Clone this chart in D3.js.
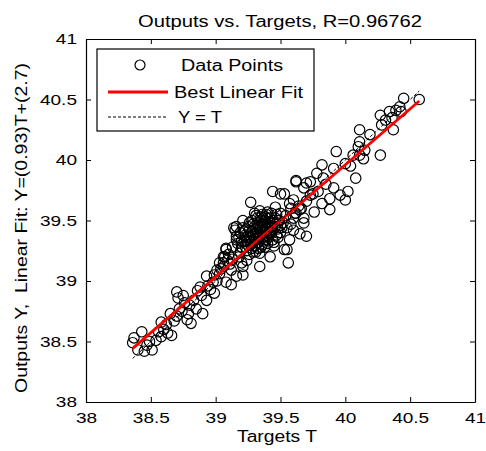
<!DOCTYPE html>
<html>
<head>
<meta charset="utf-8">
<script src="https://cdn.jsdelivr.net/npm/d3@7"></script>
<style>
  body { margin: 0; background: #fff; }
  text { font-family: "Liberation Sans", Arial, sans-serif; fill: #000; }
</style>
</head>
<body>
<div id="chart"></div>
<script>
// targets T and outputs Y (pairs line up by index)
var targets = [
  38.36, 38.37, 38.43, 38.40, 38.45, 38.49, 38.54, 38.51, 38.58, 38.60,
  38.66, 38.65, 38.62, 38.70, 38.72, 38.70, 38.71, 38.75, 38.80, 38.79,
  38.85, 38.81, 38.89, 38.88, 38.93, 38.96, 38.99, 38.98, 39.03, 39.08,
  39.06, 39.06, 38.90, 38.78, 38.93, 38.99, 39.12, 39.16, 39.21, 38.56,
  38.47, 38.68, 38.74, 38.83, 38.86, 38.94, 39.01, 38.63, 38.58, 38.76,
  39.01, 39.03, 39.07, 39.08, 39.08, 39.16, 39.14, 39.16, 39.15, 39.16,
  39.21, 39.26, 39.27, 39.24, 39.21, 39.34, 39.34, 39.42, 39.56, 39.55,
  39.53, 39.57, 39.44, 39.50, 39.53, 39.57, 39.46, 39.50, 39.65, 39.68,
  39.65, 39.70, 39.62, 39.70, 39.30, 39.32, 39.34, 39.36, 39.38, 39.40,
  39.35, 39.33, 39.31, 39.29, 39.27, 39.25, 39.28, 39.30, 39.37, 39.39,
  39.41, 39.43, 39.45, 39.42, 39.38, 39.36, 39.32, 39.29, 39.26, 39.23,
  39.22, 39.20, 39.19, 39.18, 39.13, 39.11, 39.13, 39.10, 39.24, 39.26,
  39.31, 39.35, 39.40, 39.44, 39.47, 39.48, 39.50, 39.46, 39.40, 39.34,
  39.30, 39.38, 39.43, 39.33, 39.28, 39.37, 39.42, 39.39, 39.35, 39.31,
  39.27, 39.24, 39.48, 39.52, 39.55, 39.58, 39.60, 39.54, 39.50, 39.45,
  39.60, 39.62, 39.19, 39.17, 39.06, 39.04, 39.09, 39.12, 39.20, 39.36,
  39.60, 39.61, 39.66, 39.68, 39.70, 39.73, 39.68, 39.82, 39.88, 39.88,
  39.96, 40.00, 40.02, 39.91, 40.08, 39.62, 39.73, 39.83, 39.78, 39.91,
  39.82, 40.00, 39.93, 40.06, 40.27, 40.14, 40.11, 40.15, 40.10, 40.11,
  40.19, 40.11, 40.37, 40.36, 40.28, 40.27, 40.34, 40.39, 40.42, 40.45,
  40.57, 39.75, 39.79, 39.85, 39.64, 39.58, 40.04, 40.43, 40.31, 39.76,
  39.26, 39.28, 39.30, 39.32, 39.34, 39.36, 39.38, 39.40, 39.42, 39.44,
  39.46, 39.44, 39.41, 39.39, 39.36, 39.33, 39.30, 39.27, 39.24, 39.22,
  39.25, 39.28, 39.31, 39.35, 39.39, 39.43, 39.47, 39.49, 39.51, 39.48,
  39.45, 39.38, 39.33, 39.29, 39.23, 39.20, 39.18, 39.21, 39.35, 39.40
];
var outputs = [
  38.49, 38.53, 38.58, 38.43, 38.42, 38.50, 38.51, 38.43, 38.66, 38.60,
  38.55, 38.73, 38.64, 38.71, 38.77, 38.91, 38.86, 38.88, 38.80, 38.73,
  38.77, 38.65, 38.88, 38.95, 38.84, 38.93, 38.90, 38.99, 39.06, 38.99,
  39.15, 39.20, 38.73, 38.68, 39.04, 39.05, 38.97, 39.04, 39.05, 38.58,
  38.47, 38.67, 38.75, 38.84, 38.92, 38.96, 39.00, 38.57, 38.54, 38.82,
  39.09, 39.15, 39.20, 39.26, 39.27, 39.34, 39.44, 39.45, 39.42, 39.37,
  39.50, 39.48, 39.65, 39.17, 39.12, 39.12, 39.23, 39.20, 39.15, 39.26,
  39.26, 39.34, 39.74, 39.72, 39.72, 39.64, 39.61, 39.56, 39.59, 39.48,
  39.39, 39.37, 39.83, 39.81, 39.35, 39.40, 39.38, 39.44, 39.42, 39.47,
  39.50, 39.46, 39.43, 39.38, 39.33, 39.30, 39.27, 39.29, 39.33, 39.37,
  39.40, 39.45, 39.48, 39.52, 39.53, 39.55, 39.52, 39.47, 39.42, 39.38,
  39.33, 39.28, 39.24, 39.20, 39.18, 39.14, 39.28, 39.22, 39.25, 39.22,
  39.24, 39.28, 39.31, 39.34, 39.38, 39.43, 39.46, 39.52, 39.57, 39.58,
  39.56, 39.48, 39.40, 39.36, 39.32, 39.40, 39.44, 39.45, 39.41, 39.39,
  39.36, 39.33, 39.50, 39.48, 39.44, 39.47, 39.52, 39.54, 39.40, 39.29,
  39.42, 39.56, 39.40, 39.31, 39.12, 39.10, 39.17, 39.09, 39.15, 39.30,
  39.67, 39.56, 39.60, 39.52, 39.66, 39.71, 39.77, 39.64, 39.68, 39.59,
  39.71, 39.67, 39.74, 39.77, 39.85, 39.82, 39.82, 39.85, 39.89, 39.93,
  39.96, 39.97, 40.07, 40.04, 40.04, 40.01, 40.04, 40.08, 40.11, 40.15,
  40.21, 40.25, 40.25, 40.35, 40.29, 40.37, 40.40, 40.41, 40.44, 40.51,
  40.50, 39.72, 39.74, 39.80, 39.62, 39.60, 39.95, 40.40, 40.33, 39.57,
  39.36, 39.41, 39.45, 39.48, 39.43, 39.47, 39.50, 39.52, 39.48, 39.50,
  39.45, 39.42, 39.37, 39.34, 39.36, 39.32, 39.33, 39.30, 39.36, 39.41,
  39.45, 39.50, 39.54, 39.53, 39.55, 39.56, 39.55, 39.50, 39.44, 39.36,
  39.32, 39.28, 39.27, 39.24, 39.28, 39.33, 39.36, 39.44, 39.45, 39.43
];

var tickValues = [38, 38.5, 39, 39.5, 40, 40.5, 41];
var fitSlope = 0.925;
var fitIntercept = 2.96;
var rValue = "0.96762";
var legendLabels = ["Data Points", "Best Linear Fit", "Y = T"];

var w = 486, h = 451;
var plotLeft = 86, plotRight = 475, plotTop = 39, plotBottom = 402;
var stretch = 1.27; // the picture's text is wider than plain Arial

var svg = d3.select("#chart").append("svg")
  .attr("width", w)
  .attr("height", h);

svg.append("rect").attr("width", w).attr("height", h).attr("fill", "white");

var x = d3.scaleLinear().domain([38, 41]).range([plotLeft, plotRight]);
var y = d3.scaleLinear().domain([38, 41]).range([plotBottom, plotTop]);

// widen a text element so it matches the stretched lettering
function widen(sel) {
  sel.each(function () {
    var len = this.getComputedTextLength();
    d3.select(this)
      .attr("textLength", len * stretch)
      .attr("lengthAdjust", "spacingAndGlyphs");
  });
}

// axes, ticks pointing inward like matlab
var fmt = d3.format("");
var gx = svg.append("g").attr("transform", "translate(0," + plotBottom + ")")
  .call(d3.axisBottom(x).tickValues(tickValues).tickFormat(fmt)
    .tickSizeInner(-5).tickSizeOuter(0).tickPadding(10));
var gy = svg.append("g").attr("transform", "translate(" + plotLeft + ",0)")
  .call(d3.axisLeft(y).tickValues(tickValues).tickFormat(fmt)
    .tickSizeInner(-5).tickSizeOuter(0).tickPadding(9));
svg.append("g").attr("transform", "translate(0," + plotTop + ")")
  .call(d3.axisTop(x).tickValues(tickValues).tickFormat("")
    .tickSizeInner(-5).tickSizeOuter(0));
svg.append("g").attr("transform", "translate(" + plotRight + ",0)")
  .call(d3.axisRight(y).tickValues(tickValues).tickFormat("")
    .tickSizeInner(-5).tickSizeOuter(0));

svg.selectAll(".domain").attr("stroke", "#000").attr("stroke-width", 1.2);
svg.selectAll(".tick line").attr("stroke", "#000");

gx.selectAll("text").style("font-size", "15px").attr("font-family", null).call(widen);
gy.selectAll("text").style("font-size", "15px").attr("font-family", null).call(widen);

// points
var pts = targets.map(function (t, i) { return [t, outputs[i]]; });
var plot = svg.append("g");

plot.selectAll("circle")
  .data(pts)
  .enter()
  .append("circle")
  .attr("cx", function (d) { return x(d[0]); })
  .attr("cy", function (d) { return y(d[1]); })
  .attr("r", 5.2)
  .attr("fill", "none")
  .attr("stroke", "#000")
  .attr("stroke-width", 1.2);

var ext = d3.extent(targets);

// best linear fit
plot.append("line")
  .attr("x1", x(ext[0])).attr("y1", y(fitSlope * ext[0] + fitIntercept))
  .attr("x2", x(ext[1])).attr("y2", y(fitSlope * ext[1] + fitIntercept))
  .attr("stroke", "#ff0000")
  .attr("stroke-width", 2.8);

// Y = T
plot.append("line")
  .attr("x1", x(ext[0])).attr("y1", y(ext[0]))
  .attr("x2", x(ext[1])).attr("y2", y(ext[1]))
  .attr("stroke", "#000")
  .attr("stroke-width", 1)
  .attr("stroke-dasharray", "3,2");

// legend
var lg = svg.append("g");
lg.append("rect")
  .attr("x", 97).attr("y", 49).attr("width", 217).attr("height", 82)
  .attr("fill", "white").attr("stroke", "#000").attr("stroke-width", 1.2);
lg.append("circle").attr("cx", 140).attr("cy", 65).attr("r", 5)
  .attr("fill", "none").attr("stroke", "#000").attr("stroke-width", 1.2);
lg.append("line").attr("x1", 108).attr("x2", 168).attr("y1", 92).attr("y2", 92)
  .attr("stroke", "#ff0000").attr("stroke-width", 2.8);
lg.append("line").attr("x1", 108).attr("x2", 168).attr("y1", 117).attr("y2", 117)
  .attr("stroke", "#000").attr("stroke-width", 1).attr("stroke-dasharray", "3,2");

var legendPos = [[181, 71, 102], [174, 98, 129], [178, 123, 44]];
legendLabels.forEach(function (label, i) {
  lg.append("text")
    .attr("x", legendPos[i][0]).attr("y", legendPos[i][1])
    .attr("textLength", legendPos[i][2]).attr("lengthAdjust", "spacingAndGlyphs")
    .style("font-size", "16px")
    .text(label);
});

// title and axis labels
svg.append("text")
  .attr("x", 280).attr("y", 27)
  .attr("text-anchor", "middle")
  .attr("textLength", 284).attr("lengthAdjust", "spacingAndGlyphs")
  .style("font-size", "16px")
  .text("Outputs vs. Targets, R=" + rValue);

svg.append("text")
  .attr("x", 277).attr("y", 442)
  .attr("text-anchor", "middle")
  .attr("textLength", 80).attr("lengthAdjust", "spacingAndGlyphs")
  .style("font-size", "16px")
  .text("Targets T");

svg.append("text")
  .attr("transform", "translate(27,228) rotate(-90)")
  .attr("text-anchor", "middle")
  .attr("textLength", 330).attr("lengthAdjust", "spacingAndGlyphs")
  .style("font-size", "16px")
  .style("white-space", "pre")
  .text("Outputs Y,  Linear Fit: Y=(0.93)T+(2.7)");
</script>
</body>
</html>
